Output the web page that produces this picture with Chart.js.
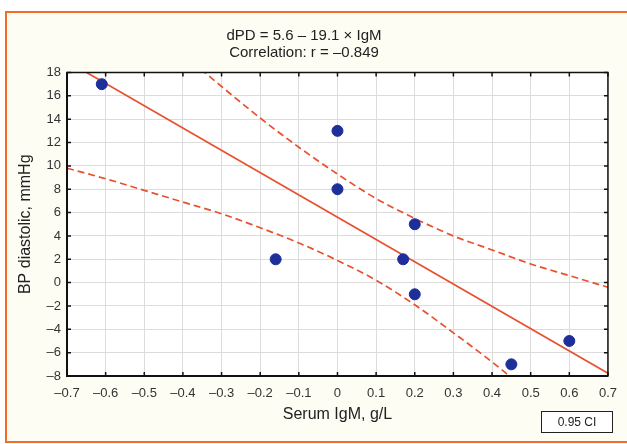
<!DOCTYPE html>
<html>
<head>
<meta charset="utf-8">
<script src="https://cdn.jsdelivr.net/npm/chart.js@4.4.1/dist/chart.umd.min.js"></script>
<style>
  html,body{margin:0;padding:0;background:#fff;overflow:hidden}
  #frame{position:absolute;left:5px;top:11px;width:640px;height:428px;border:2.5px solid #f26b2b;background:#fdfdf4}
  #wrap{position:absolute;left:0;top:0;width:627px;height:444px}
</style>
</head>
<body>
<div id="frame"></div>
<div id="wrap"><canvas id="chart" width="627" height="444"></canvas></div>
<script>
// Serum IgM vs. change in diastolic BP
const igm = [-0.61, 0, 0, -0.16, 0.2, 0.17, 0.2, 0.45, 0.6];
const bpDiastolic = [17, 13, 8, 2, 5, 2, -1, -7, -5];

// regression line dPD = 5.6 - 19.1 x IgM, at the axis ends
const fitX = [-0.7, 0.7];
const fitY = [18.97, -7.77];

// 0.95 confidence band
const ciX = [-0.7, -0.6, -0.5, -0.4, -0.3, -0.2, -0.1, 0, 0.1, 0.2, 0.3, 0.4, 0.5, 0.6, 0.7];
const ciUpper = [28.1, 25.2, 22.4, 19.6, 16.8, 14.1, 11.6, 9.3, 7.2, 5.5, 4.0, 2.8, 1.6, 0.6, -0.4];
const ciLower = [9.8, 8.9, 7.9, 6.9, 5.9, 4.7, 3.4, 1.9, 0.2, -1.9, -4.3, -6.8, -9.5, -12.3, -15.1];

const xTicks = [-0.7, -0.6, -0.5, -0.4, -0.3, -0.2, -0.1, 0, 0.1, 0.2, 0.3, 0.4, 0.5, 0.6, 0.7];
const yTicks = [-8, -6, -4, -2, 0, 2, 4, 6, 8, 10, 12, 14, 16, 18];

const titleLines = ['dPD = 5.6 \u2013 19.1 \u00d7 IgM', 'Correlation: r = \u20130.849'];
const legendText = '0.95 CI';

const FONT = "'Liberation Sans Narrow', 'Liberation Sans', Arial, sans-serif";
const RED = '#e8502e';
const fmt = v => {
  const s = Math.abs(v) < 1e-9 ? '0' : (Number.isInteger(v) ? String(v) : v.toFixed(1));
  return s.replace('-', '\u2013');
};
const pairs = (xs, ys) => xs.map((x, i) => ({x, y: ys[i]}));

// white plot area, black box with inward ticks, CI key box
const framePlugin = {
  id: 'frame',
  beforeDraw(chart){
    const {ctx, chartArea:a} = chart;
    ctx.save();
    ctx.fillStyle = '#fff';
    ctx.fillRect(a.left, a.top, a.right - a.left, a.bottom - a.top);
    ctx.restore();
  },
  afterDraw(chart){
    const {ctx, chartArea:a, scales} = chart;
    ctx.save();
    ctx.strokeStyle = '#111';
    ctx.lineWidth = 1.5;
    ctx.strokeRect(a.left, a.top, a.right - a.left, a.bottom - a.top);
    ctx.lineWidth = 2;
    ctx.beginPath();
    ctx.moveTo(a.left, a.top); ctx.lineTo(a.left, a.bottom); ctx.lineTo(a.right, a.bottom);
    ctx.stroke();
    ctx.lineWidth = 1.5;
    ctx.beginPath();
    xTicks.forEach(v => {
      const px = scales.x.getPixelForValue(v);
      ctx.moveTo(px, a.bottom); ctx.lineTo(px, a.bottom - 4);
      ctx.moveTo(px, a.top); ctx.lineTo(px, a.top + 4);
    });
    yTicks.forEach(v => {
      const py = scales.y.getPixelForValue(v);
      ctx.moveTo(a.left, py); ctx.lineTo(a.left + 4, py);
      ctx.moveTo(a.right, py); ctx.lineTo(a.right - 4, py);
    });
    ctx.stroke();
    // key box
    ctx.lineWidth = 1;
    ctx.fillStyle = '#fff';
    ctx.fillRect(541.5, 411.5, 71, 21);
    ctx.strokeStyle = '#222';
    ctx.strokeRect(541.5, 411.5, 71, 21);
    ctx.fillStyle = '#222';
    ctx.font = '12px ' + FONT;
    ctx.textAlign = 'center';
    ctx.textBaseline = 'middle';
    ctx.fillText(legendText, 577, 422.5);
    ctx.restore();
  }
};

new Chart(document.getElementById('chart'), {
  type: 'scatter',
  data: {
    datasets: [
      {data: pairs(igm, bpDiastolic), backgroundColor: '#1f2f9a', borderColor: '#1f2f9a', pointRadius: 5.5, pointHoverRadius: 5.5, order: 0},
      {type: 'line', data: pairs(fitX, fitY), borderColor: RED, borderWidth: 1.7, pointRadius: 0, fill: false, order: 1},
      {type: 'line', data: pairs(ciX, ciUpper), borderColor: RED, borderWidth: 1.7, borderDash: [7, 4], pointRadius: 0, cubicInterpolationMode: 'monotone', fill: false, order: 1},
      {type: 'line', data: pairs(ciX, ciLower), borderColor: RED, borderWidth: 1.7, borderDash: [7, 4], pointRadius: 0, cubicInterpolationMode: 'monotone', fill: false, order: 1}
    ]
  },
  options: {
    responsive: false,
    animation: false,
    layout: {padding: {left: 0, right: 19, top: 13, bottom: 0}},
    plugins: {
      legend: {display: false},
      tooltip: {enabled: false},
      title: {
        display: true,
        text: titleLines,
        color: '#222',
        font: {family: FONT, size: 15, weight: 'normal', lineHeight: 1.15},
        padding: {top: 14, bottom: 11}
      }
    },
    scales: {
      x: {
        type: 'linear', min: -0.7, max: 0.7,
        afterBuildTicks: s => { s.ticks = xTicks.map(value => ({value})); },
        afterFit: s => { s.height = 68; },
        grid: {color: '#dcdcdc', lineWidth: 1, drawTicks: false},
        border: {display: false},
        ticks: {color: '#333', padding: 10, maxRotation: 0, autoSkip: false, font: {family: FONT, size: 13}, callback: v => fmt(v)},
        title: {display: true, text: 'Serum IgM, g/L', color: '#222', font: {family: FONT, size: 16}, padding: {top: 0, bottom: 20}}
      },
      y: {
        type: 'linear', min: -8, max: 18,
        afterBuildTicks: s => { s.ticks = yTicks.map(value => ({value})); },
        afterFit: s => { s.width = 67; },
        grid: {color: '#dcdcdc', lineWidth: 1, drawTicks: false},
        border: {display: false},
        ticks: {color: '#333', padding: 6, autoSkip: false, font: {family: FONT, size: 13}, callback: v => fmt(v)},
        title: {display: true, text: 'BP diastolic, mmHg', color: '#222', font: {family: FONT, size: 16}, padding: {top: 16, bottom: 0}}
      }
    }
  },
  plugins: [framePlugin]
});
</script>
</body>
</html>
